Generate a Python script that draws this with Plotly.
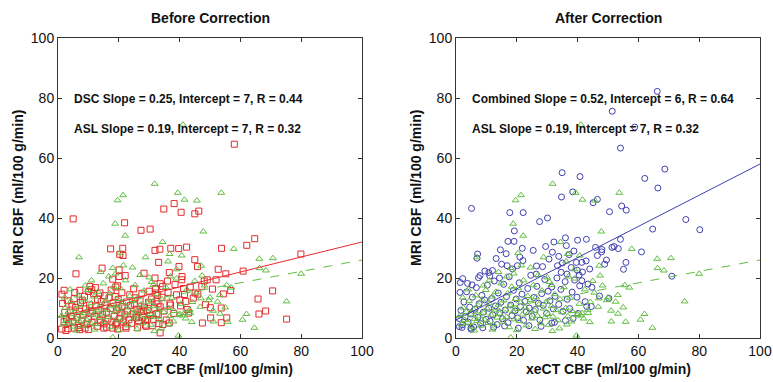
import plotly.graph_objects as go

# ---------------- data ----------------
# ASL (green triangles) - same in both panels
asl_x = [41.1, 31.8, 39.4, 41.6, 45.7, 53.7, 21.4, 19.6, 18.8, 22.1, 47.8, 34.4, 6.9, 28.8, 40.7, 36.7,
         57.8, 66.2, 70.7, 66.3, 68.4, 80.0, 75.2, 55.5, 47.1, 47.4, 21.5, 20.4, 18.0, 16.7, 31.4, 36.2,
         39.0, 51.1, 44.0, 60.7, 62.0, 64.6, 53.3, 55.8, 52.5, 47.0, 50.0, 39.6, 18.0, 31.7, 30.5,
         1.2, 1.8, 2.4, 2.9, 3.4, 3.9, 4.3, 4.8, 5.2, 5.7, 6.1, 6.5, 7.0, 7.3, 7.7, 8.2, 8.6, 9.0, 9.4, 9.8,
         10.2, 10.6, 11.0, 11.5, 11.9, 12.3, 12.7, 13.1, 13.6, 14.0, 14.4, 14.9, 15.3, 15.7, 16.2, 16.6,
         17.0, 17.5, 17.9, 18.3, 18.8, 19.2, 19.6, 20.1, 20.5, 20.9, 21.4, 21.8, 22.2, 22.7, 23.1, 23.6,
         24.0, 24.5, 25.0, 25.4, 25.9, 26.3, 26.8, 27.3, 27.8, 28.3, 28.8, 29.3, 29.8, 30.3, 30.8, 31.4,
         31.9, 32.5, 33.0, 33.6, 34.2, 34.8, 35.5, 36.1, 36.8, 37.5, 38.2, 39.0, 39.8, 40.6, 41.5, 42.4,
         43.3, 44.2, 45.5, 46.8, 48.2, 49.6, 51.0, 53.2, 55.0, 57.0, 45.0, 37.0, 27.0, 14.0, 24.5, 30.0,
         19.0, 9.0, 4.0, 11.0, 2.2, 6.0, 12.0, 20.0, 26.0, 34.0, 36.5, 42.0, 40.0, 41.0, 43.5, 38.0]
asl_y = [71.1, 51.4, 48.4, 46.1, 45.8, 48.4, 47.6, 45.9, 38.1, 34.1, 35.5, 32.0, 26.9, 26.9, 27.5, 28.0,
         29.7, 26.4, 26.6, 23.3, 22.5, 21.4, 12.2, 17.6, 24.1, 20.8, 24.2, 28.3, 23.3, 20.5, 17.7, 25.5,
         22.9, 5.5, 5.3, 6.1, 8.0, 3.4, 8.1, 5.4, 12.1, 13.2, 13.5, 0.8, 0.2, 2.3, 4.4,
         7.4, 4.6, 10.1, 6.0, 8.7, 5.1, 12.3, 7.9, 3.8, 9.6, 6.4, 14.2, 5.6, 10.9, 7.2, 4.1, 12.8, 8.4, 6.1, 16.0,
         9.9, 5.0, 11.6, 7.7, 13.8, 4.6, 9.2, 15.4, 6.8, 11.1, 8.1, 18.2, 5.4, 12.5, 9.5, 7.0,
         14.9, 3.6, 10.8, 17.1, 8.8, 6.2, 13.0, 9.7, 16.6, 5.7, 11.9, 7.8, 19.2, 10.2, 4.2, 14.0,
         8.5, 12.7, 6.5, 17.6, 9.1, 13.6, 7.4, 11.2, 4.9, 15.8, 9.8, 6.9, 12.1, 8.0, 18.7, 10.6,
         7.1, 14.6, 9.3, 5.9, 12.9, 8.6, 16.9, 10.0, 7.3, 13.4, 9.0, 19.8, 7.6, 11.4, 8.3, 16.2,
         9.4, 12.0, 15.1, 10.4, 17.5, 12.6, 9.1, 14.3, 10.2, 16.8, 19.0, 20.5, 21.0, 22.0, 23.5, 20.2,
         21.5, 17.5, 16.2, 19.2, 13.5, 2.5, 2.8, 2.6, 3.0, 3.2, 4.5, 6.5, 8.0, 7.5, 8.3, 5.5]

# DSC before correction (red squares)
dsc_x = [5.0, 5.9, 58.0, 21.9, 27.3, 30.3, 34.8, 38.2, 40.5, 45.0, 46.3, 17.3, 21.3, 21.4, 20.3, 22.1,
         14.5, 31.9, 33.5, 37.1, 39.7, 42.3, 45.0, 45.9, 39.8, 36.6, 40.8, 40.7, 33.1, 53.8, 62.1, 64.7,
         60.9, 79.9, 52.7, 55.2, 48.1, 47.3, 49.1, 54.4, 70.6, 65.8, 66.1, 68.3, 75.2, 55.5, 53.7, 50.2,
         50.1, 47.5, 53.7, 42.9, 44.5, 45.1, 41.3, 41.6, 40.1, 36.8, 33.6, 33.2, 36.6, 32.5, 32.9, 32.1,
         32.2, 29.5, 28.8, 28.1, 27.0, 25.9, 22.4, 19.3, 18.0, 15.1, 10.0, 7.2, 5.4, 1.2, 2.6, 1.3, 2.0,
         10.5, 11.1, 7.2, 19.0, 19.6, 20.1, 18.0, 20.1, 28.3, 31.9, 33.6, 34.4, 13.8,
         1.5, 2.2, 2.8, 3.1, 3.5, 4.0, 4.4, 4.9, 5.3, 5.8, 6.2, 6.6, 7.0, 7.4, 7.8, 8.3, 8.7, 9.1, 9.5,
         9.9, 10.4, 10.8, 11.2, 11.7, 12.1, 12.5, 12.9, 13.4, 13.8, 14.2, 14.6, 15.1, 15.5, 15.9, 16.4,
         16.8, 17.2, 17.7, 18.1, 18.5, 19.0, 19.4, 19.8, 20.3, 20.7, 21.1, 21.6, 22.0, 22.5, 22.9, 23.3,
         23.8, 24.2, 24.7, 25.1, 25.6, 26.0, 26.5, 27.0, 27.4, 27.9, 28.4, 28.8, 29.3, 29.8, 30.3, 30.8,
         31.3, 31.8, 32.3, 33.0, 33.6, 34.2, 34.9, 35.6, 36.2, 37.0, 38.1, 39.0, 40.3, 42.0, 43.5, 46.0,
         48.5, 50.8, 52.0, 56.8, 38.5, 36.0, 42.5,
         2.0, 3.3, 4.6, 5.5, 6.9, 8.0, 8.9, 10.1, 11.4, 12.3, 13.0, 14.0, 15.3, 16.0, 17.5, 18.8, 19.6,
         21.0, 22.3, 23.6, 24.9, 26.2, 27.6, 29.0, 30.0, 31.0, 32.8, 34.5, 25.4, 20.0]
dsc_y = [39.7, 21.4, 64.6, 38.4, 35.9, 36.3, 43.0, 44.8, 41.9, 41.4, 42.3, 29.7, 29.9, 27.5, 27.9, 20.8,
         23.3, 29.2, 29.6, 29.9, 29.8, 30.3, 26.1, 23.8, 23.8, 21.8, 20.5, 19.4, 25.2, 29.9, 30.9, 33.1,
         22.3, 28.0, 22.9, 21.4, 19.0, 17.2, 19.4, 14.7, 15.7, 13.0, 8.0, 9.0, 6.3, 6.7, 10.0, 6.7,
         10.1, 5.0, 5.1, 8.3, 13.3, 15.0, 16.5, 14.5, 12.7, 11.6, 1.7, 4.8, 5.0, 8.1, 11.4, 16.5,
         15.0, 6.1, 6.1, 8.9, 9.4, 6.7, 3.3, 5.0, 3.3, 3.3, 2.8, 2.8, 3.3, 3.0, 2.5, 14.6, 15.9,
         17.2, 16.1, 15.9, 17.0, 17.4, 20.5, 19.6, 22.7, 21.6, 20.0, 18.1, 17.2, 15.0,
         11.5, 8.5, 6.2, 12.4, 4.8, 9.3, 7.1, 5.5, 13.1, 10.2, 6.8, 4.2, 8.9, 11.8, 5.9, 7.6, 13.9, 9.7, 4.6,
         6.4, 11.0, 8.2, 5.1, 14.8, 7.3, 10.6, 3.9, 9.1, 6.0, 12.2, 7.9, 4.7, 10.9, 8.6, 6.3,
         13.4, 9.8, 5.6, 11.7, 7.2, 4.4, 9.4, 12.8, 6.6, 8.3, 10.5, 5.3, 7.7, 12.0, 9.0, 6.1,
         10.8, 4.9, 8.0, 11.3, 7.0, 9.6, 5.8, 12.6, 8.8, 6.9, 10.3, 4.3, 9.2, 11.9, 7.5, 13.0,
         6.2, 9.9, 12.3, 7.8, 10.4, 13.6, 9.0, 6.0, 15.2, 11.0, 8.2, 14.4, 10.7, 12.2, 17.0, 14.6,
         11.1, 16.3, 19.4, 15.8, 17.8, 19.0, 9.5,
         5.4, 3.1, 10.6, 15.2, 3.5, 12.6, 3.3, 15.5, 9.0, 16.8, 12.9, 5.2, 14.1, 3.6, 16.0, 13.8, 3.0,
         15.1, 3.8, 14.4, 16.4, 3.4, 14.9, 3.9, 15.6, 4.1, 14.2, 4.5, 13.4, 10.0]

# Combined after correction (blue circles)
comb_x = [66.2, 51.4, 58.8, 54.1, 40.8, 34.9, 34.7, 38.4, 46.5, 45.1, 62.1, 68.7, 66.4, 54.5, 56.0, 50.5,
          5.1, 17.7, 22.1, 30.1, 27.5, 19.2, 75.6, 80.2, 64.7, 36.0, 42.9, 40.0, 32.2, 17.1, 19.1, 21.8,
          14.6, 54.1, 53.4, 51.3, 45.9, 47.9, 61.0, 48.9, 55.9, 55.1, 71.0, 41.4, 39.6, 7.1, 6.9, 7.4,
          5.3, 2.2, 1.4, 1.3, 10.8, 11.1, 14.3, 20.2, 16.8, 26.4, 28.5, 33.4, 39.9, 36.5, 41.4, 44.7,
          43.0, 50.3, 32.4, 4.9, 1.1,
          1.0, 1.6, 2.1, 2.6, 3.0, 3.5, 4.0, 4.5, 4.9, 5.4, 5.8, 6.3, 6.7, 7.2, 7.6, 8.1, 8.5, 9.0, 9.4,
          9.9, 10.3, 10.8, 11.2, 11.7, 12.1, 12.6, 13.0, 13.5, 13.9, 14.4, 14.8, 15.3, 15.7, 16.2, 16.6,
          17.1, 17.5, 18.0, 18.4, 18.9, 19.4, 19.8, 20.3, 20.8, 21.2, 21.7, 22.2, 22.7, 23.1, 23.6, 24.1,
          24.6, 25.1, 25.6, 26.1, 26.6, 27.1, 27.6, 28.2, 28.7, 29.2, 29.8, 30.3, 30.9, 31.5, 32.0, 32.6,
          33.2, 33.8, 34.5, 35.2, 35.9, 36.6, 37.4, 38.2, 39.0, 39.8, 40.7, 41.6, 42.5, 43.4,
          2.0, 5.0, 8.8, 12.4, 16.0, 20.5, 24.0, 28.0, 3.8, 7.9, 12.0, 15.0, 18.6, 22.0, 26.5, 30.6, 35.0,
          37.2, 9.5, 13.2, 16.5, 21.0, 25.4, 29.5, 31.7, 33.8, 36.3, 38.8, 34.6, 37.9, 40.5, 42.8, 44.0,
          46.5, 48.0, 49.5, 52.0, 47.2, 44.5, 40.2, 38.5, 36.0, 31.5]
comb_y = [82.2, 75.6, 70.3, 63.3, 53.8, 55.1, 47.0, 48.7, 46.2, 45.1, 53.2, 56.3, 50.0, 44.0, 42.6, 42.1,
          43.2, 41.8, 41.8, 40.0, 38.8, 35.7, 39.5, 36.1, 36.3, 33.4, 32.9, 32.6, 32.0, 32.2, 32.2, 29.9,
          29.4, 32.9, 29.8, 30.2, 30.2, 28.7, 28.7, 24.6, 25.2, 22.9, 20.6, 25.2, 25.2, 28.0, 26.6, 20.1,
          17.7, 19.8, 18.5, 15.2, 21.8, 20.7, 20.0, 24.1, 24.1, 21.3, 23.8, 24.1, 22.6, 21.3, 19.1, 16.9,
          10.5, 13.2, 5.2, 3.3, 3.8,
          6.5, 9.2, 4.4, 12.0, 7.1, 15.4, 5.3, 10.3, 8.0, 13.6, 3.7, 9.6, 16.8, 6.9, 11.4, 4.9, 14.2, 8.6, 12.7,
          6.2, 17.6, 9.9, 5.6, 13.1, 7.7, 19.0, 10.7, 4.5, 15.0, 8.4, 11.9, 6.4, 17.9, 9.3, 13.8,
          5.1, 20.4, 11.0, 7.5, 15.9, 9.0, 13.0, 6.7, 18.4, 10.4, 14.6, 5.9, 12.2, 8.7, 16.5, 10.0,
          20.9, 7.2, 13.5, 9.5, 17.2, 11.6, 6.0, 14.8, 10.9, 19.5, 8.2, 15.6, 12.4, 17.0, 9.7, 13.9,
          20.0, 11.2, 16.2, 8.9, 18.8, 12.9, 9.8, 15.3, 19.3, 13.6, 17.4, 22.0, 12.1, 18.0,
          3.5, 2.9, 3.4, 3.6, 4.0, 3.3, 4.1, 3.9, 18.2, 20.8, 22.5, 24.6, 23.0, 25.8, 24.0, 26.3, 25.0,
          27.8, 22.3, 26.5, 28.1, 27.0, 29.2, 30.5, 28.6, 27.2, 30.8, 29.0, 21.9, 23.5, 21.0, 25.7, 23.0,
          27.5, 29.5, 26.0, 30.5, 14.0, 10.5, 8.2, 6.5, 5.8, 5.0]

# regression fits (slope, intercept) read from the annotations
dsc_fit = (0.25, 7)
asl_fit = (0.19, 7)
comb_fit = (0.52, 6)
fit_x = [0, 100]

panel_titles = ["Before Correction", "After Correction"]
stat_texts_left = ["DSC Slope = 0.25, Intercept = 7, R = 0.44", "ASL Slope = 0.19, Intercept = 7, R = 0.32"]
stat_texts_right = ["Combined Slope = 0.52, Intercept = 6, R = 0.64", "ASL Slope = 0.19, Intercept = 7, R = 0.32"]
x_title = "xeCT CBF (ml/100 g/min)"
y_title = "MRI CBF (ml/100 g/min)"
tick_vals = [0, 20, 40, 60, 80, 100]

# ---------------- styling ----------------
RED = "#e52a2a"
GREEN = "#62bd42"
BLUE = "#3f3fb0"
FONT = "Liberation Sans, Arial, sans-serif"
W, H = 773, 382
MT, MB = 38, 44
PH = H - MT - MB

fig = go.Figure()

def scat(x, y, sym, color, xa, ya):
    fig.add_trace(go.Scatter(x=x, y=y, mode="markers", xaxis=xa, yaxis=ya,
                             marker=dict(symbol=sym, size=6, color=color, line=dict(width=1, color=color)),
                             showlegend=False, hoverinfo="skip"))

def fit(slope_int, color, dash, xa, ya):
    s, b = slope_int
    fig.add_trace(go.Scatter(x=fit_x, y=[s * v + b for v in fit_x], mode="lines", xaxis=xa, yaxis=ya,
                             line=dict(color=color, width=1, dash=dash), showlegend=False, hoverinfo="skip"))

# left panel
scat(dsc_x, dsc_y, "square-open", RED, "x", "y")
scat(asl_x, asl_y, "triangle-up-open", GREEN, "x", "y")
fit(dsc_fit, RED, "solid", "x", "y")
fit(asl_fit, GREEN, "dash", "x", "y")
# right panel
scat(comb_x, comb_y, "circle-open", BLUE, "x2", "y2")
scat(asl_x, asl_y, "triangle-up-open", GREEN, "x2", "y2")
fit(comb_fit, BLUE, "solid", "x2", "y2")
fit(asl_fit, GREEN, "dash", "x2", "y2")

axis_common = dict(range=[0, 100], tickvals=tick_vals, ticks="inside", ticklen=4, tickwidth=1,
                   tickcolor="#333", showline=True, linecolor="#333", linewidth=1, mirror="ticks",
                   showgrid=False, zeroline=False, automargin=False,
                   tickfont=dict(family=FONT, size=14, color="#111"))

fig.update_layout(
    width=W, height=H, paper_bgcolor="white", plot_bgcolor="white",
    margin=dict(l=0, r=0, t=MT, b=MB, autoexpand=False),
    xaxis=dict(domain=[58 / W, 362 / W], anchor="y", **axis_common),
    yaxis=dict(domain=[0, 1], anchor="x", **axis_common),
    xaxis2=dict(domain=[456 / W, 760 / W], anchor="y2", **axis_common),
    yaxis2=dict(domain=[0, 1], anchor="x2", **axis_common),
)

ann = []
title_font = dict(family=FONT, size=14, color="#111", weight="bold")
for i, t in enumerate(panel_titles):
    cx = (210 if i == 0 else 608) / W
    ann.append(dict(text=t, x=cx, y=1 + 20 / PH, xref="paper", yref="paper", xanchor="center",
                    yanchor="middle", showarrow=False, font=title_font))
    # x axis title
    ann.append(dict(text=x_title, x=cx, y=-(369 - MT - PH) / PH, xref="paper", yref="paper",
                    xanchor="center", yanchor="middle", showarrow=False, font=title_font))
    # y axis title
    ax_px = 18 if i == 0 else 416
    ann.append(dict(text=y_title, x=ax_px / W, y=0.5, xref="paper", yref="paper", textangle=-90,
                    xanchor="center", yanchor="middle", showarrow=False, font=title_font))
for xr, yr, texts in (("x", "y", stat_texts_left), ("x2", "y2", stat_texts_right)):
    for t, yv in zip(texts, [79.7, 69.6]):
        ann.append(dict(text=t, x=4.5, y=yv, xref=xr, yref=yr, xanchor="left", yanchor="middle",
                        showarrow=False, font=dict(family=FONT, size=12, color="#111", weight="bold")))
fig.update_layout(annotations=ann)

# remove the browser's default 8px body margin so the figure fills the window exactly
fig.write_html("out.html", config={"displayModeBar": False},
               post_script="document.body.style.margin='0px';document.body.style.overflow='hidden';")
